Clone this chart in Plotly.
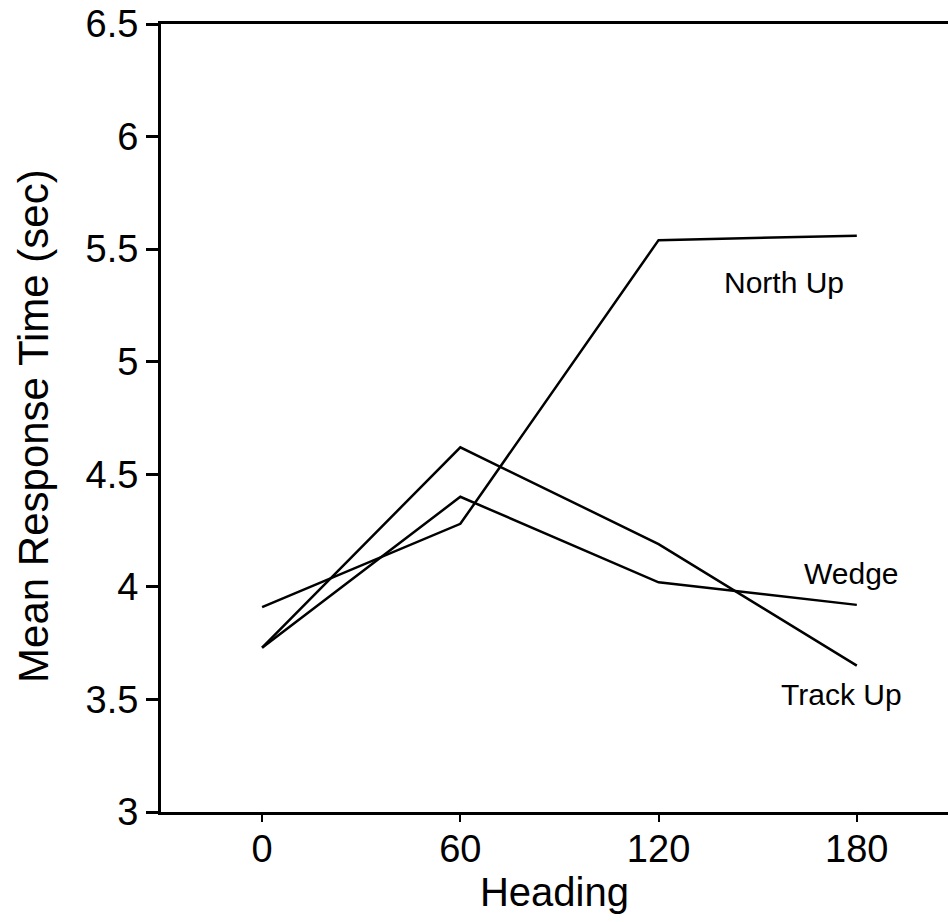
import plotly.graph_objects as go

heading = [0, 60, 120, 180]
north_up = [3.91, 4.28, 5.54, 5.56]
track_up = [3.73, 4.62, 4.19, 3.65]
wedge = [3.73, 4.40, 4.02, 3.92]

x_ticks = [0, 60, 120, 180]
y_ticks = [3, 3.5, 4, 4.5, 5, 5.5, 6, 6.5]
y_tick_text = ["3", "3.5", "4", "4.5", "5", "5.5", "6", "6.5"]

labels = ["North Up", "Wedge", "Track Up"]
label_x = [158, 178.5, 175.5]
label_y = [5.35, 4.06, 3.52]

FONT = "Liberation Sans, Arial, Helvetica, sans-serif"

fig = go.Figure()
for name, ys in [("North Up", north_up), ("Track Up", track_up), ("Wedge", wedge)]:
    fig.add_trace(go.Scatter(x=heading, y=ys, mode="lines", name=name,
                             line=dict(color="black", width=2.5), showlegend=False))

for t, xx, yy in zip(labels, label_x, label_y):
    fig.add_annotation(x=xx, y=yy, xref="x", yref="y", text=t, showarrow=False,
                       font=dict(family=FONT, size=30, color="black"))

# y-axis title placed as rotated text left of the axis
fig.add_annotation(x=(34 - 161) / 787, y=0.49, xref="paper", yref="paper",
                   text="Mean Response Time (sec)", showarrow=False, textangle=-90,
                   xanchor="center", yanchor="middle",
                   font=dict(family=FONT, size=42, color="black"))

fig.update_layout(
    width=948, height=922,
    margin=dict(l=161, r=0, t=24, b=110, autoexpand=False),
    paper_bgcolor="white", plot_bgcolor="white",
    font=dict(family=FONT, color="black"),
    xaxis=dict(range=[-30.6, 207.6], tickvals=x_ticks, showgrid=False, zeroline=False,
               showline=True, linecolor="black", linewidth=3, mirror=True,
               ticks="outside", ticklen=7, tickwidth=2, tickcolor="black",
               ticklabelstandoff=-6, automargin=False, ticklabeloverflow="allow",
               tickfont=dict(size=38, family=FONT),
               title=dict(text="Heading", font=dict(size=40, family=FONT), standoff=0)),
    yaxis=dict(range=[3, 6.5], tickvals=y_ticks, ticktext=y_tick_text, showgrid=False,
               zeroline=False, showline=True, linecolor="black", linewidth=3,
               ticks="outside", ticklen=12, tickwidth=2.5, tickcolor="black",
               automargin=False, ticklabeloverflow="allow",
               tickfont=dict(size=38, family=FONT)),
)

fig.write_html("out.html", config={"displayModeBar": False},
               post_script="document.body.style.margin='0';document.body.style.overflow='hidden';")
